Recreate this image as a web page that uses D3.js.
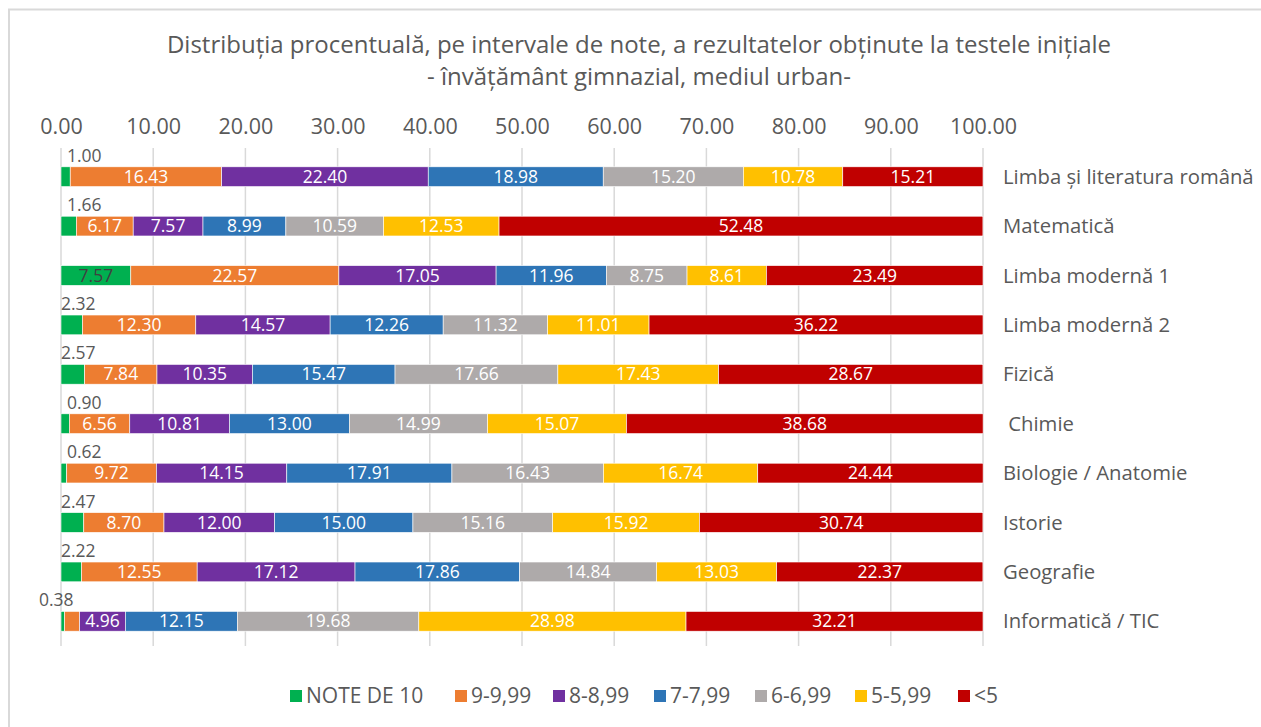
<!DOCTYPE html>
<html>
<head>
<meta charset="utf-8">
<script src="https://cdn.jsdelivr.net/npm/d3@7"></script>
<style>
  body { margin: 0; background: #fff; }
  svg { display: block; }
</style>
</head>
<body>
<div id="chart"></div>
<script>
// subjects (rows, top to bottom)
var subjects = ["Limba și literatura română", "Matematică", "Limba modernă 1", "Limba modernă 2",
    "Fizică", " Chimie", "Biologie / Anatomie", "Istorie", "Geografie", "Informatică / TIC"];

// grade intervals (series)
var intervals = ["NOTE DE 10", "9-9,99", "8-8,99", "7-7,99", "6-6,99", "5-5,99", "<5"];
var colors = ["#00b050", "#ed7d31", "#7030a0", "#2e75b6", "#aeaaaa", "#ffc000", "#c00000"];

// percent per interval, one array per series, in subject order
var note10  = [1.00, 1.66, 7.57, 2.32, 2.57, 0.90, 0.62, 2.47, 2.22, 0.38];
var n9_999  = [16.43, 6.17, 22.57, 12.30, 7.84, 6.56, 9.72, 8.70, 12.55, 1.64];
var n8_899  = [22.40, 7.57, 17.05, 14.57, 10.35, 10.81, 14.15, 12.00, 17.12, 4.96];
var n7_799  = [18.98, 8.99, 11.96, 12.26, 15.47, 13.00, 17.91, 15.00, 17.86, 12.15];
var n6_699  = [15.20, 10.59, 8.75, 11.32, 17.66, 14.99, 16.43, 15.16, 14.84, 19.68];
var n5_599  = [10.78, 12.53, 8.61, 11.01, 17.43, 15.07, 16.74, 15.92, 13.03, 28.98];
var under5  = [15.21, 52.48, 23.49, 36.22, 28.67, 38.68, 24.44, 30.74, 22.37, 32.21];

var series = [note10, n9_999, n8_899, n7_799, n6_699, n5_599, under5];
var ticks = [0, 10, 20, 30, 40, 50, 60, 70, 80, 90, 100];

var W = 1261, H = 727;
var textColor = "#595959";
var font = '"Open Sans", Lato, sans-serif';

var svg = d3.select("#chart").append("svg")
    .attr("width", W).attr("height", H)
    .style("font-family", font);

// outer chart border (only top/left visible in the picture)
svg.append("path")
    .attr("d", "M9,727 L9,9.5 L1261,9.5")
    .attr("fill", "none")
    .attr("stroke", "#d9d9d9")
    .attr("stroke-width", 2);

// title
svg.append("text")
    .attr("x", 639).attr("y", 53)
    .attr("text-anchor", "middle")
    .attr("fill", textColor)
    .style("font-size", "24px")
    .text("Distribuția procentuală, pe intervale de note, a rezultatelor obținute la testele inițiale");
svg.append("text")
    .attr("x", 639).attr("y", 85)
    .attr("text-anchor", "middle")
    .attr("fill", textColor)
    .style("font-size", "24px")
    .text("- învățământ gimnazial, mediul urban-");

var x = d3.scaleLinear().domain([0, 100]).range([61, 983]);
var y = d3.scaleBand().domain(subjects).range([152, 646]).paddingInner(0.6).paddingOuter(0.3);

// gridlines
svg.append("g").selectAll("line")
    .data(ticks)
    .enter().append("line")
    .attr("x1", function(d) { return x(d); })
    .attr("x2", function(d) { return x(d); })
    .attr("y1", 148).attr("y2", 646)
    .attr("stroke", "#d9d9d9")
    .attr("stroke-width", 1.5);

// top axis
var xAxis = svg.append("g")
    .attr("transform", "translate(0,134)")
    .call(d3.axisTop(x).tickValues(ticks).tickFormat(d3.format(".2f")).tickSize(0).tickPadding(0));
xAxis.select(".domain").remove();
xAxis.selectAll("text")
    .attr("fill", textColor)
    .style("font-size", "21.5px")
    .style("font-family", font);

// stacked data
var rows = subjects.map(function(s, i) {
    var obj = { subject: s };
    intervals.forEach(function(k, j) { obj[k] = series[j][i]; });
    return obj;
});
var stacked = d3.stack().keys(intervals)(rows);

var layer = svg.append("g").selectAll("g")
    .data(stacked)
    .enter().append("g")
    .attr("fill", function(d, i) { return colors[i]; });

layer.selectAll("rect")
    .data(function(d) { return d; })
    .enter().append("rect")
    .attr("x", function(d) { return x(d[0]); })
    .attr("width", function(d) { return x(d[1]) - x(d[0]); })
    .attr("y", function(d) { return y(d.data.subject); })
    .attr("height", y.bandwidth())
    .attr("stroke", "#fff")
    .attr("stroke-width", 0.6);

// value labels
layer.each(function(ser, si) {
    d3.select(this).selectAll("text")
        .data(ser)
        .enter().append("text")
        .each(function(d) {
            var v = d[1] - d[0];
            var t = d3.select(this);
            var w = x(d[1]) - x(d[0]);
            t.text(v.toFixed(2)).style("font-size", "17.5px");
            if (si === 0 && w < 45) {
                // small green values sit above the bar
                if (v < 0.5) {
                    t.attr("x", x(d[1]) + 9).attr("text-anchor", "end");
                } else {
                    t.attr("x", x(0) + (v < 2 ? 6 : 0)).attr("text-anchor", "start");
                }
                t.attr("y", y(d.data.subject) - 5).attr("fill", textColor);
            } else if (w < 18) {
                t.remove();
            } else {
                t.attr("x", (x(d[0]) + x(d[1])) / 2)
                    .attr("y", y(d.data.subject) + y.bandwidth() / 2 + 6)
                    .attr("text-anchor", "middle")
                    .attr("fill", si === 0 ? "#404040" : "#fff");
            }
        });
});

// subject labels on the right
svg.append("g").selectAll("text")
    .data(subjects)
    .enter().append("text")
    .attr("x", 1003)
    .attr("y", function(d) { return y(d) + y.bandwidth() / 2 + 7; })
    .attr("fill", textColor)
    .style("font-size", "20.3px")
    .style("white-space", "pre")
    .attr("xml:space", "preserve")
    .text(function(d) { return d; });

// legend
var legendX = [290, 455, 553, 654, 755, 855, 958];
var legend = svg.append("g").selectAll("g")
    .data(intervals)
    .enter().append("g")
    .attr("transform", function(d, i) { return "translate(" + legendX[i] + ",690)"; });
legend.append("rect")
    .attr("width", 12).attr("height", 12)
    .attr("fill", function(d, i) { return colors[i]; });
legend.append("text")
    .attr("x", 16).attr("y", 13)
    .attr("fill", textColor)
    .style("font-size", "21px")
    .text(function(d) { return d; });
</script>
</body>
</html>
